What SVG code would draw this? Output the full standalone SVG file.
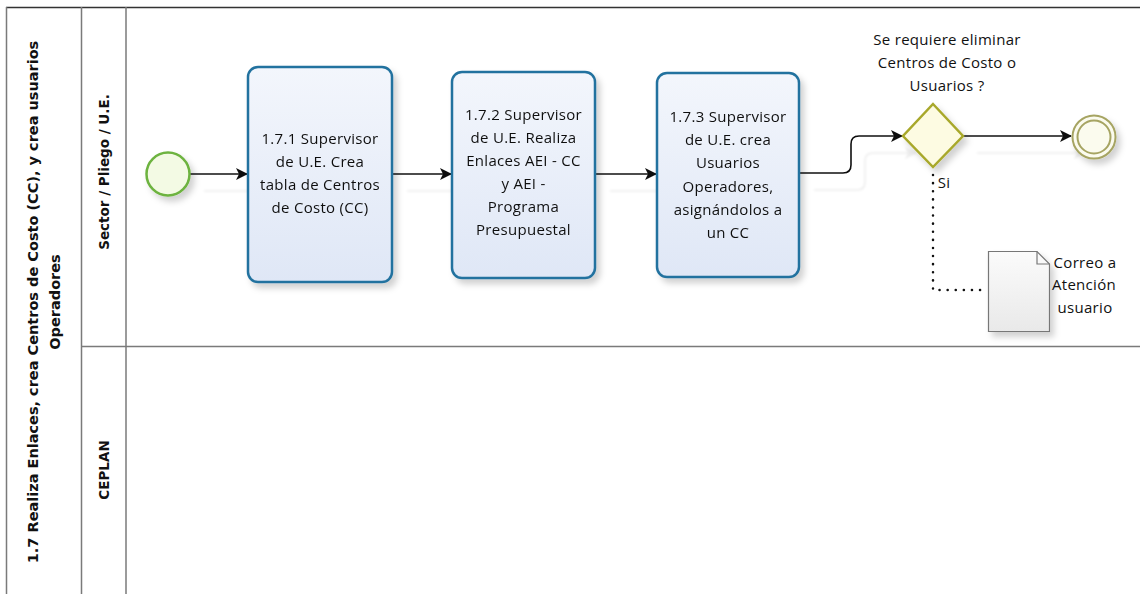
<svg xmlns="http://www.w3.org/2000/svg" width="1140" height="594" viewBox="0 0 1140 594">
  <defs>
    <linearGradient id="taskFill" x1="0" y1="0" x2="0" y2="1">
      <stop offset="0" stop-color="#f3f6fc"/>
      <stop offset="1" stop-color="#dfe7f6"/>
    </linearGradient>
    <linearGradient id="docFill" x1="0" y1="0" x2="0" y2="1">
      <stop offset="0" stop-color="#fbfbfb"/>
      <stop offset="1" stop-color="#e9e9e9"/>
    </linearGradient>
    <filter id="shadow" x="-20%" y="-20%" width="150%" height="150%">
      <feDropShadow dx="4" dy="5" stdDeviation="3" flood-color="#000" flood-opacity="0.18"/>
    </filter>
    <filter id="lineShadow" x="-10%" y="-50%" width="130%" height="250%">
      <feDropShadow dx="14" dy="17" stdDeviation="1" flood-color="#000" flood-opacity="0.07"/>
    </filter>
    <marker id="arrow" viewBox="0 0 12 12" refX="11" refY="6" markerWidth="12" markerHeight="12" markerUnits="userSpaceOnUse" orient="auto">
      <path d="M0,0 L12,6 L0,12 L3,6 Z" fill="#111"/>
    </marker>
  </defs>
  <style>
    .frame { fill: none; stroke: #7a7a7a; stroke-width: 1.5; }
    .top { stroke: #333; stroke-width: 1.5; }
    .lbl { font-family: "DejaVu Sans", Verdana, sans-serif; font-weight: bold; fill: #111; text-anchor: middle; }
    .task rect { fill: url(#taskFill); stroke: #23729f; stroke-width: 2.5; }
    .txt { font-family: "Open Sans", "DejaVu Sans", sans-serif; font-size: 15px; letter-spacing: 0.3px; fill: #111; text-anchor: middle; }
    .flow { fill: none; stroke: #111; stroke-width: 1.6; }
    .assoc { fill: none; stroke: #111; stroke-width: 2.5; stroke-dasharray: 0.1 8; stroke-linecap: round; }
  </style>

  <rect width="1140" height="594" fill="#fff"/>

  <!-- pool / lanes frame -->
  <g id="pool">
    <line class="top" x1="6" y1="7.5" x2="1140" y2="7.5"/>
    <line class="frame" x1="6.5" y1="7" x2="6.5" y2="594"/>
    <line class="frame" x1="81.5" y1="7" x2="81.5" y2="594"/>
    <line class="frame" x1="126" y1="7" x2="126" y2="594"/>
    <line class="frame" x1="81" y1="346.5" x2="1140" y2="346.5"/>
    <text class="lbl" font-size="14.5" transform="translate(38,302) rotate(-90)">1.7 Realiza Enlaces, crea Centros de Costo (CC), y crea usuarios</text>
    <text class="lbl" font-size="14.5" transform="translate(60,302) rotate(-90)">Operadores</text>
  </g>
  <g id="lane-sector">
    <text class="lbl" font-size="13.5" transform="translate(109,172) rotate(-90)">Sector / Pliego / U.E.</text>
  </g>
  <g id="lane-ceplan">
    <text class="lbl" font-size="13.5" transform="translate(109,470) rotate(-90)">CEPLAN</text>
  </g>

  <!-- connectors -->
  <g id="connectors">
    <g filter="url(#lineShadow)">
      <path class="flow" d="M190,174 L247,174" marker-end="url(#arrow)"/>
      <path class="flow" d="M393,174 L451,174" marker-end="url(#arrow)"/>
      <path class="flow" d="M596,174 L656,174" marker-end="url(#arrow)"/>
      <path class="flow" d="M800,173 L843,173 Q851,173 851,165 L851,144 Q851,136 859,136 L902,136" marker-end="url(#arrow)"/>
      <path class="flow" d="M963,136 L1071,136" marker-end="url(#arrow)"/>
    </g>
    <path class="assoc" d="M933,175 L933,290 L984,290"/>
    <text class="txt" x="944" y="188">Si</text>
  </g>

  <!-- start event -->
  <g id="start" filter="url(#shadow)">
    <circle cx="168" cy="174" r="21.5" fill="#f3fae4" stroke="#6db33f" stroke-width="2.5"/>
  </g>

  <!-- tasks -->
  <g id="task-171" class="task" filter="url(#shadow)">
    <rect x="248" y="67" width="144" height="215" rx="10" ry="10"/>
    <text class="txt" x="320" y="144">1.7.1 Supervisor</text>
    <text class="txt" x="320" y="167">de U.E. Crea</text>
    <text class="txt" x="320" y="190">tabla de Centros</text>
    <text class="txt" x="320" y="213">de Costo  (CC)</text>
  </g>
  <g id="task-172" class="task" filter="url(#shadow)">
    <rect x="452" y="72" width="143" height="206" rx="10" ry="10"/>
    <text class="txt" x="523.5" y="120">1.7.2 Supervisor</text>
    <text class="txt" x="523.5" y="143">de U.E. Realiza</text>
    <text class="txt" x="523.5" y="166">Enlaces AEI - CC</text>
    <text class="txt" x="523.5" y="189">y AEI -</text>
    <text class="txt" x="523.5" y="212">Programa</text>
    <text class="txt" x="523.5" y="235">Presupuestal</text>
  </g>
  <g id="task-173" class="task" filter="url(#shadow)">
    <rect x="657" y="73" width="142" height="204" rx="10" ry="10"/>
    <text class="txt" x="728" y="122">1.7.3 Supervisor</text>
    <text class="txt" x="728" y="145">de U.E.  crea</text>
    <text class="txt" x="728" y="168">Usuarios</text>
    <text class="txt" x="728" y="192">Operadores,</text>
    <text class="txt" x="728" y="215">asignándolos a</text>
    <text class="txt" x="728" y="238">un CC</text>
  </g>

  <!-- gateway -->
  <g id="gateway">
    <polygon points="933,104 963,136 933,167 903,136" fill="#fdfbe2" stroke="#a8a82c" stroke-width="2.5" filter="url(#shadow)"/>
    <text class="txt" x="947" y="45">Se requiere eliminar</text>
    <text class="txt" x="947" y="68">Centros de Costo o</text>
    <text class="txt" x="947" y="91">Usuarios ?</text>
  </g>

  <!-- end event -->
  <g id="end" filter="url(#shadow)">
    <circle cx="1094" cy="137" r="21.5" fill="#fbfbee" stroke="#a6a462" stroke-width="2"/>
    <circle cx="1094" cy="137" r="16.5" fill="none" stroke="#a6a462" stroke-width="2"/>
  </g>

  <!-- data object -->
  <g id="doc">
    <path d="M988.5,251.5 L1037,251.5 L1049.5,264 L1049.5,331.5 L988.5,331.5 Z" fill="url(#docFill)" stroke="#777" stroke-width="1.2" filter="url(#shadow)"/>
    <path d="M1037,251.5 L1037,264 L1049.5,264" fill="none" stroke="#777" stroke-width="1.2"/>
    <text class="txt" x="1085" y="268">Correo a</text>
    <text class="txt" x="1084" y="290">Atención</text>
    <text class="txt" x="1085" y="313">usuario</text>
  </g>
</svg>
